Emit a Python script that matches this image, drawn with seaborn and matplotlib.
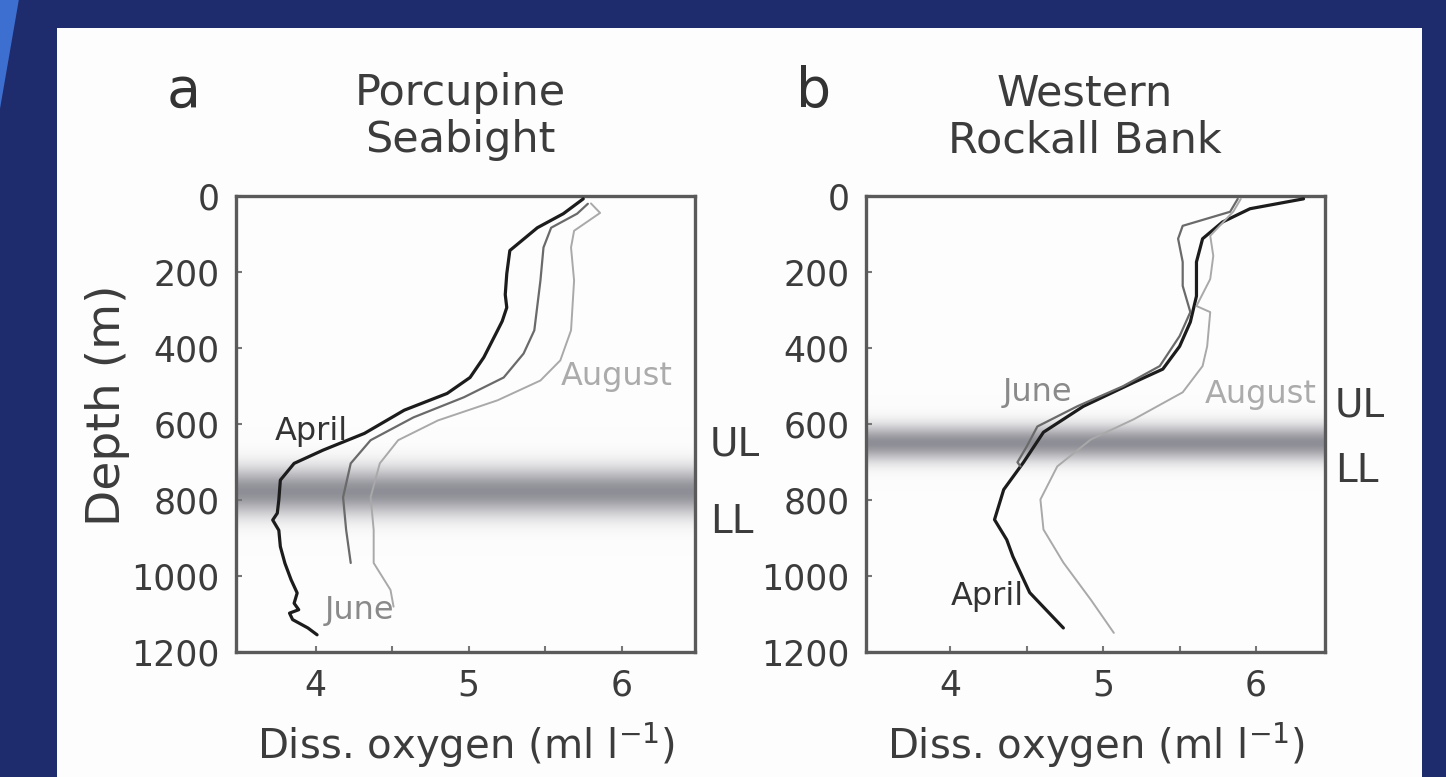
import numpy as np
import pandas as pd
import matplotlib
matplotlib.use('Agg')
import matplotlib.pyplot as plt
import matplotlib.transforms as mtransforms
from matplotlib.colors import LinearSegmentedColormap
from matplotlib.patches import Rectangle, Polygon
import seaborn as sns

# ---- data ----
months = ['April', 'June', 'August']

# a: Porcupine Seabight
ps_april_depth = [8, 47, 84, 144, 205, 260, 294, 330, 354, 425, 478, 520, 564, 625, 669, 704, 748,
                  800, 835, 853, 880, 923, 967, 1010, 1045, 1072, 1089, 1098, 1115, 1137, 1155]
ps_april_oxy = [5.75, 5.62, 5.45, 5.27, 5.25, 5.24, 5.25, 5.22, 5.19, 5.10, 5.01, 4.86, 4.58, 4.32, 4.05, 3.86, 3.77,
                3.76, 3.75, 3.72, 3.76, 3.77, 3.80, 3.84, 3.88, 3.86, 3.89, 3.83, 3.85, 3.95, 4.01]
ps_june_depth = [21, 47, 84, 136, 223, 354, 415, 478, 530, 583, 643, 704, 793, 879, 966]
ps_june_oxy = [5.78, 5.71, 5.54, 5.49, 5.47, 5.43, 5.36, 5.23, 4.97, 4.64, 4.36, 4.23, 4.18, 4.20, 4.23]
ps_aug_depth = [20, 45, 92, 136, 223, 354, 433, 486, 538, 591, 643, 704, 793, 879, 966, 1037, 1081]
ps_aug_oxy = [5.80, 5.86, 5.69, 5.67, 5.69, 5.67, 5.60, 5.47, 5.19, 4.80, 4.54, 4.42, 4.36, 4.38, 4.38, 4.49, 4.51]

# b: Western Rockall Bank
wr_april_depth = [8, 34, 69, 113, 174, 264, 332, 396, 456, 491, 554, 622, 701, 773, 852, 905, 949, 1044, 1137]
wr_april_oxy = [6.31, 5.96, 5.78, 5.65, 5.61, 5.61, 5.57, 5.50, 5.39, 5.20, 4.87, 4.61, 4.48, 4.35, 4.29, 4.37, 4.41, 4.52, 4.74]
wr_june_depth = [8, 42, 79, 113, 174, 237, 306, 369, 448, 501, 554, 607, 660, 701, 712]
wr_june_oxy = [5.88, 5.83, 5.52, 5.49, 5.52, 5.52, 5.57, 5.50, 5.37, 5.13, 4.83, 4.57, 4.50, 4.44, 4.46]
wr_aug_depth = [8, 42, 105, 158, 219, 290, 306, 396, 448, 517, 588, 641, 712, 799, 878, 965, 1063, 1150]
wr_aug_oxy = [5.90, 5.85, 5.70, 5.72, 5.70, 5.61, 5.70, 5.68, 5.65, 5.52, 5.20, 4.92, 4.70, 4.59, 4.61, 4.74, 4.92, 5.07]

# upper / lower limit of the oxygen minimum band (m)
band_ul = [690, 585]
band_ll = [870, 720]

yticks = [0, 200, 400, 600, 800, 1000, 1200]
xticks = [4, 5, 6]


def profile_df(depths, oxys):
    frames = []
    for m, d, o in zip(months, depths, oxys):
        frames.append(pd.DataFrame({'depth': d, 'oxygen': o, 'month': m}))
    return pd.concat(frames, ignore_index=True)


df_a = profile_df([ps_april_depth, ps_june_depth, ps_aug_depth], [ps_april_oxy, ps_june_oxy, ps_aug_oxy])
df_b = profile_df([wr_april_depth, wr_june_depth, wr_aug_depth], [wr_april_oxy, wr_june_oxy, wr_aug_oxy])

sns.set_theme(style='white')
plt.rcParams['font.family'] = ['DejaVu Sans']
plt.rcParams['mathtext.fontset'] = 'dejavusans'

line_colors = {'April': '#1c1c1c', 'June': '#6a6a6a', 'August': '#a9a9a9'}
line_widths = {'April': 2.3, 'June': 1.6, 'August': 1.4}
text_colors = {'April': '#333333', 'June': '#8a8a8a', 'August': '#ababab'}
ink = '#3c3c3c'

fig = plt.figure(figsize=(14.46, 7.77), dpi=100, facecolor='#1e2b6c')
fig.patches.append(Rectangle((0.0394, 0), 0.944, 0.964, transform=fig.transFigure,
                             facecolor='#fdfdfd', edgecolor='none', zorder=-5))
fig.patches.append(Polygon([(0, 1), (0.013, 1), (0, 0.86)], closed=True, transform=fig.transFigure,
                           facecolor='#3d6fd0', edgecolor='none', zorder=-5))

ax_a = fig.add_axes([0.1632, 0.161, 0.3174, 0.587])
ax_b = fig.add_axes([0.5989, 0.161, 0.3174, 0.587])

band_cmap = LinearSegmentedColormap.from_list('band', [(1, 1, 1, 0), (0.56, 0.56, 0.59, 1)])

panels = [
    (ax_a, df_a, (3.48, 6.48), 0, 'a', 'Porcupine\nSeabight', 0.488,
     {'April': (3.97, 620), 'June': (4.29, 1090), 'August': (5.97, 475)},
     (1.033, 654, 858)),
    (ax_b, df_b, (3.45, 6.45), 1, 'b', 'Western\nRockall Bank', 0.477,
     {'April': (4.24, 1053), 'June': (4.57, 518), 'August': (6.03, 522)},
     (1.022, 551, 723)),
]

for ax, df, xlim, i, letter, title, tx, label_pos, lim_pos in panels:
    # shaded band between UL and LL, soft edges
    centre = (band_ul[i] + band_ll[i]) / 2
    half = (band_ll[i] - band_ul[i]) / 2
    dd = np.linspace(centre - 2.4 * half, centre + 2.4 * half, 300)
    shade = np.exp(-((dd - centre) / (0.95 * half)) ** 2)
    ax.imshow(shade[:, None], extent=[xlim[0], xlim[1], dd[-1], dd[0]], origin='upper',
              aspect='auto', cmap=band_cmap, vmin=0, vmax=1, zorder=0, interpolation='bilinear')

    for m in months:
        sns.lineplot(data=df[df.month == m], x='oxygen', y='depth', sort=False, estimator=None,
                     color=line_colors[m], linewidth=line_widths[m], ax=ax, zorder=3)
        px, py = label_pos[m]
        ax.text(px, py, m, fontsize=23, color=text_colors[m], ha='center', va='center', zorder=4)

    ax.set_xlim(*xlim)
    ax.set_ylim(1200, 0)
    ax.set_yticks(yticks)
    ax.set_xticks(xticks)
    ax.set_xticks([4.5, 5.5], minor=True)
    ax.tick_params(axis='both', which='both', direction='in', length=4, width=1.5,
                   color='#777777', labelsize=25, labelcolor=ink, pad=12,
                   left=True, bottom=True)
    for sp in ax.spines.values():
        sp.set_color('#5a5a5a')
        sp.set_linewidth(2.4)
    ax.set_facecolor('none')

    ax.set_xlabel('Diss. oxygen (ml l$^{-1}$)', fontsize=29, color=ink, labelpad=13)
    ax.set_ylabel('')

    ax.text(tx, 1.096, title, transform=ax.transAxes, fontsize=31, color=ink,
            ha='center', va='baseline', linespacing=1.15)
    ax.text(-0.115, 1.195, letter, transform=ax.transAxes, fontsize=40, color='#333333',
            ha='center', va='baseline')

    trans = mtransforms.blended_transform_factory(ax.transAxes, ax.transData)
    ax.text(lim_pos[0], lim_pos[1], 'UL', transform=trans, fontsize=28, color=ink,
            ha='left', va='center', clip_on=False)
    ax.text(lim_pos[0], lim_pos[2], 'LL', transform=trans, fontsize=28, color=ink,
            ha='left', va='center', clip_on=False)

ax_a.set_ylabel('Depth (m)', fontsize=34, color=ink)
ax_a.yaxis.set_label_coords(-0.23, 0.54)

fig.savefig('out.png', dpi=100, facecolor=fig.get_facecolor())
